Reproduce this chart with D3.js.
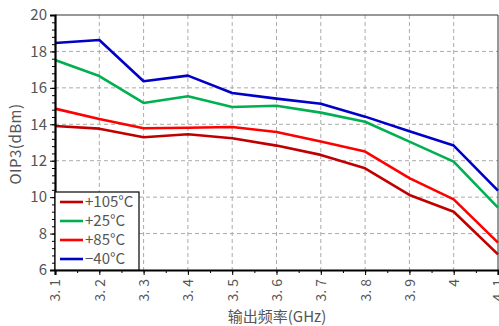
<!DOCTYPE html>
<html><head><meta charset="utf-8">
<script src="https://cdn.jsdelivr.net/npm/d3@7"></script>
<style>body{margin:0;background:#fff}svg{display:block}</style>
</head><body>
<svg id="c" width="499" height="326"></svg>
<script>
const freqs = [3.1,3.2,3.3,3.4,3.5,3.6,3.7,3.8,3.9,4.0,4.1];
const xTickLabels = ["3. 1","3. 2","3. 3","3. 4","3. 5","3. 6","3. 7","3. 8","3. 9","4","4. 1"];
const yTicks = [6,8,10,12,14,16,18,20];
const seriesNames = ["+105°C","+25°C","+85°C","−40°C"];
const seriesColors = ["#c00000","#00b050","#ff0000","#0000c8"];
const t105 = [13.91,13.76,13.29,13.45,13.23,12.83,12.32,11.58,10.12,9.20,6.86];
const t25  = [17.53,16.65,15.17,15.54,14.95,15.02,14.64,14.14,13.05,11.95,9.42];
const t85  = [14.86,14.29,13.78,13.81,13.85,13.58,13.05,12.50,11.04,9.88,7.50];
const tm40 = [18.46,18.63,16.36,16.67,15.72,15.41,15.13,14.42,13.62,12.83,10.36];
const seriesValues = [t105,t25,t85,tm40];

const svg = d3.select("#c");
const L=55,R=498,T=15,B=270;
const x = d3.scaleLinear().domain([3.1,4.1]).range([L,R]);
const y = d3.scaleLinear().domain([6,20]).range([B,T]);
const font = "'Noto Sans CJK SC', sans-serif";

// grid
const g = svg.append("g");
freqs.slice(1,-1).forEach(f=>{
  g.append("line").attr("x1",x(f)).attr("x2",x(f)).attr("y1",T).attr("y2",B)
   .attr("stroke","#aaa").attr("stroke-dasharray","4,3").attr("stroke-width",1);
});
yTicks.slice(1,-1).forEach(v=>{
  g.append("line").attr("x1",L).attr("x2",R).attr("y1",y(v)).attr("y2",y(v))
   .attr("stroke","#aaa").attr("stroke-dasharray","4,3").attr("stroke-width",1);
});

// frame top/right
svg.append("line").attr("x1",L).attr("x2",R).attr("y1",T).attr("y2",T).attr("stroke","#333").attr("stroke-width",1);
svg.append("line").attr("x1",R).attr("x2",R).attr("y1",T).attr("y2",B).attr("stroke","#333").attr("stroke-width",1);

// lines
const line = d3.line().x((d,i)=>x(freqs[i])).y(d=>y(d));
seriesValues.forEach((vals,k)=>{
  svg.append("path").datum(vals).attr("d",line).attr("fill","none")
    .attr("stroke",seriesColors[k]).attr("stroke-width",2.6).attr("stroke-linejoin","round");
});

// y axis
const yMinor = d3.range(6,20.001,0.4);
const ya = svg.append("g").attr("transform",`translate(${L},0)`);
ya.call(d3.axisLeft(y).tickValues(yMinor).tickSize(3).tickFormat(""));
ya.call(g2=>g2.selectAll(".domain").remove());
const ya2 = svg.append("g").attr("transform",`translate(${L},0)`)
  .call(d3.axisLeft(y).tickValues(yTicks).tickSize(5).tickPadding(3).tickFormat(d3.format("d")));
ya2.select(".domain").attr("stroke","#000").attr("stroke-width",2.2);
ya2.selectAll("text").attr("font-family",font).attr("font-size",15).attr("fill","#555");
svg.selectAll(".tick line").attr("stroke","#000");

// x axis
const xMinor = d3.range(3.1,4.1001,0.05);
const xa = svg.append("g").attr("transform",`translate(0,${B})`);
xa.call(d3.axisBottom(x).tickValues(xMinor).tickSize(3).tickFormat(""));
xa.call(g2=>g2.selectAll(".domain").remove());
const xa2 = svg.append("g").attr("transform",`translate(0,${B})`)
  .call(d3.axisBottom(x).tickValues(freqs).tickSize(5).tickFormat((d,i)=>xTickLabels[i]));
xa2.select(".domain").attr("stroke","#000").attr("stroke-width",2.2);
xa2.selectAll("text").attr("font-family",font).attr("font-size",14).attr("fill","#555")
  .attr("text-anchor","end").attr("transform","rotate(-90)")
  .attr("x",-9).attr("y",0).attr("dy","0.35em");
svg.selectAll(".tick line").attr("stroke","#000");

// axis titles
svg.append("text").attr("x",277).attr("y",322).attr("text-anchor","middle")
  .attr("font-family",font).attr("font-size",15).attr("fill","#555").text("输出频率(GHz)");
svg.append("text").attr("transform","translate(21,144) rotate(-90)").attr("text-anchor","middle")
  .attr("font-family",font).attr("font-size",15).attr("fill","#555").attr("letter-spacing",0.5).text("OIP3(dBm)");

// legend
const lg = svg.append("g");
lg.append("rect").attr("x",L).attr("y",192).attr("width",84).attr("height",78)
  .attr("fill","#fff").attr("stroke","#000").attr("stroke-width",1.2);
seriesNames.forEach((n,k)=>{
  const yy = 202 + k*19;
  lg.append("line").attr("x1",60).attr("x2",83).attr("y1",yy).attr("y2",yy)
    .attr("stroke",seriesColors[k]).attr("stroke-width",2.6);
  lg.append("text").attr("x",85).attr("y",yy).attr("dy","0.35em")
    .attr("font-family",font).attr("font-size",15).attr("fill","#555").text(n);
});
</script>
</body></html>
